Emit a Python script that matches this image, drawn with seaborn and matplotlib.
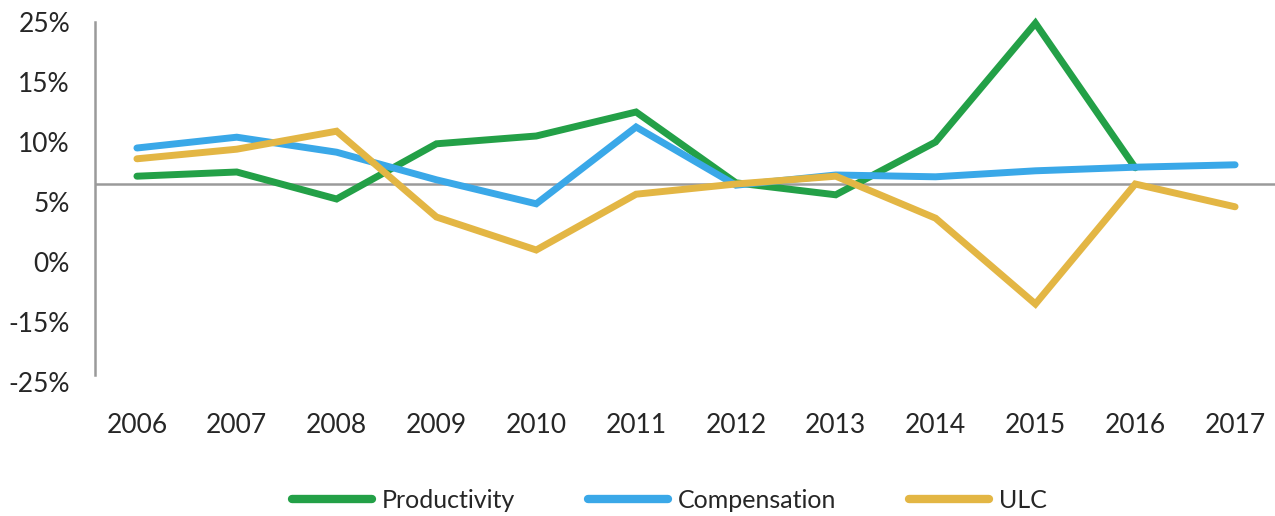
import numpy as np
import pandas as pd
import matplotlib
matplotlib.use("Agg")
import matplotlib.pyplot as plt
import seaborn as sns

# values, in axis steps (0 = bottom tick, 6 = top tick)
years = list(range(2006, 2018))
productivity = [3.43, 3.50, 3.05, 3.97, 4.10, 4.50, 3.32, 3.12, 4.00, 5.98, 3.57, np.nan]
compensation = [3.90, 4.08, 3.83, 3.37, 2.97, 4.25, 3.28, 3.45, 3.42, 3.52, 3.58, 3.62]
ulc = [3.72, 3.88, 4.18, 2.75, 2.20, 3.13, 3.30, 3.43, 2.73, 1.30, 3.30, 2.92]
ref_level = 3.30

ytick_labels = ["-25%", "-15%", "0%", "5%", "10%", "15%", "25%"]
series_names = ["Productivity", "Compensation", "ULC"]
colors = ["#23a047", "#3aa8e8", "#e3b644"]

df = pd.DataFrame({"Year": years, "Productivity": productivity,
                   "Compensation": compensation, "ULC": ulc})
df = df.melt(id_vars="Year", var_name="Series", value_name="Value").dropna()

sns.set_style("white")
plt.rcParams["font.family"] = ["Lato", "DejaVu Sans"]

fig = plt.figure(figsize=(12.75, 5.16), dpi=100)
ax = fig.add_axes([95 / 1275, 1 - 388 / 516, 1 - 95 / 1275, 372 / 516])

ax.axhline(ref_level, color="#9a9a9a", lw=1.8, zorder=1)
sns.lineplot(data=df, x="Year", y="Value", hue="Series", hue_order=series_names,
             palette=colors, lw=5, ax=ax, legend=True, zorder=3)
for line in ax.lines[1:]:
    line.set_solid_capstyle("round")
    line.set_solid_joinstyle("miter")

ax.set_xlim(2005.58, 2017.4)
ax.set_ylim(-0.1, 6.1)
ax.set_xticks(years)
ax.set_xticklabels([str(y) for y in years], fontsize=19)
ax.set_yticks(range(len(ytick_labels)))
ax.set_yticklabels(ytick_labels, fontsize=19)
ax.tick_params(axis="x", length=0, pad=18)
ax.tick_params(axis="y", length=0, pad=18)
ax.set_xlabel("")
ax.set_ylabel("")

for s in ["top", "right", "bottom"]:
    ax.spines[s].set_visible(False)
ax.spines["left"].set_color("#9a9a9a")
ax.spines["left"].set_linewidth(1.8)
ax.spines["left"].set_bounds(0.12, 6.0)

handles, labels = ax.get_legend_handles_labels()
ax.get_legend().remove()
leg = fig.legend(handles, labels, loc="center", bbox_to_anchor=(0.525, 0.03),
                 ncol=3, frameon=False, fontsize=18, handlelength=3.2,
                 columnspacing=2.9, handletextpad=0.4)
for h in leg.legend_handles:
    h.set_linewidth(6)
    h.set_solid_capstyle("round")

fig.savefig("out.png", dpi=100)
